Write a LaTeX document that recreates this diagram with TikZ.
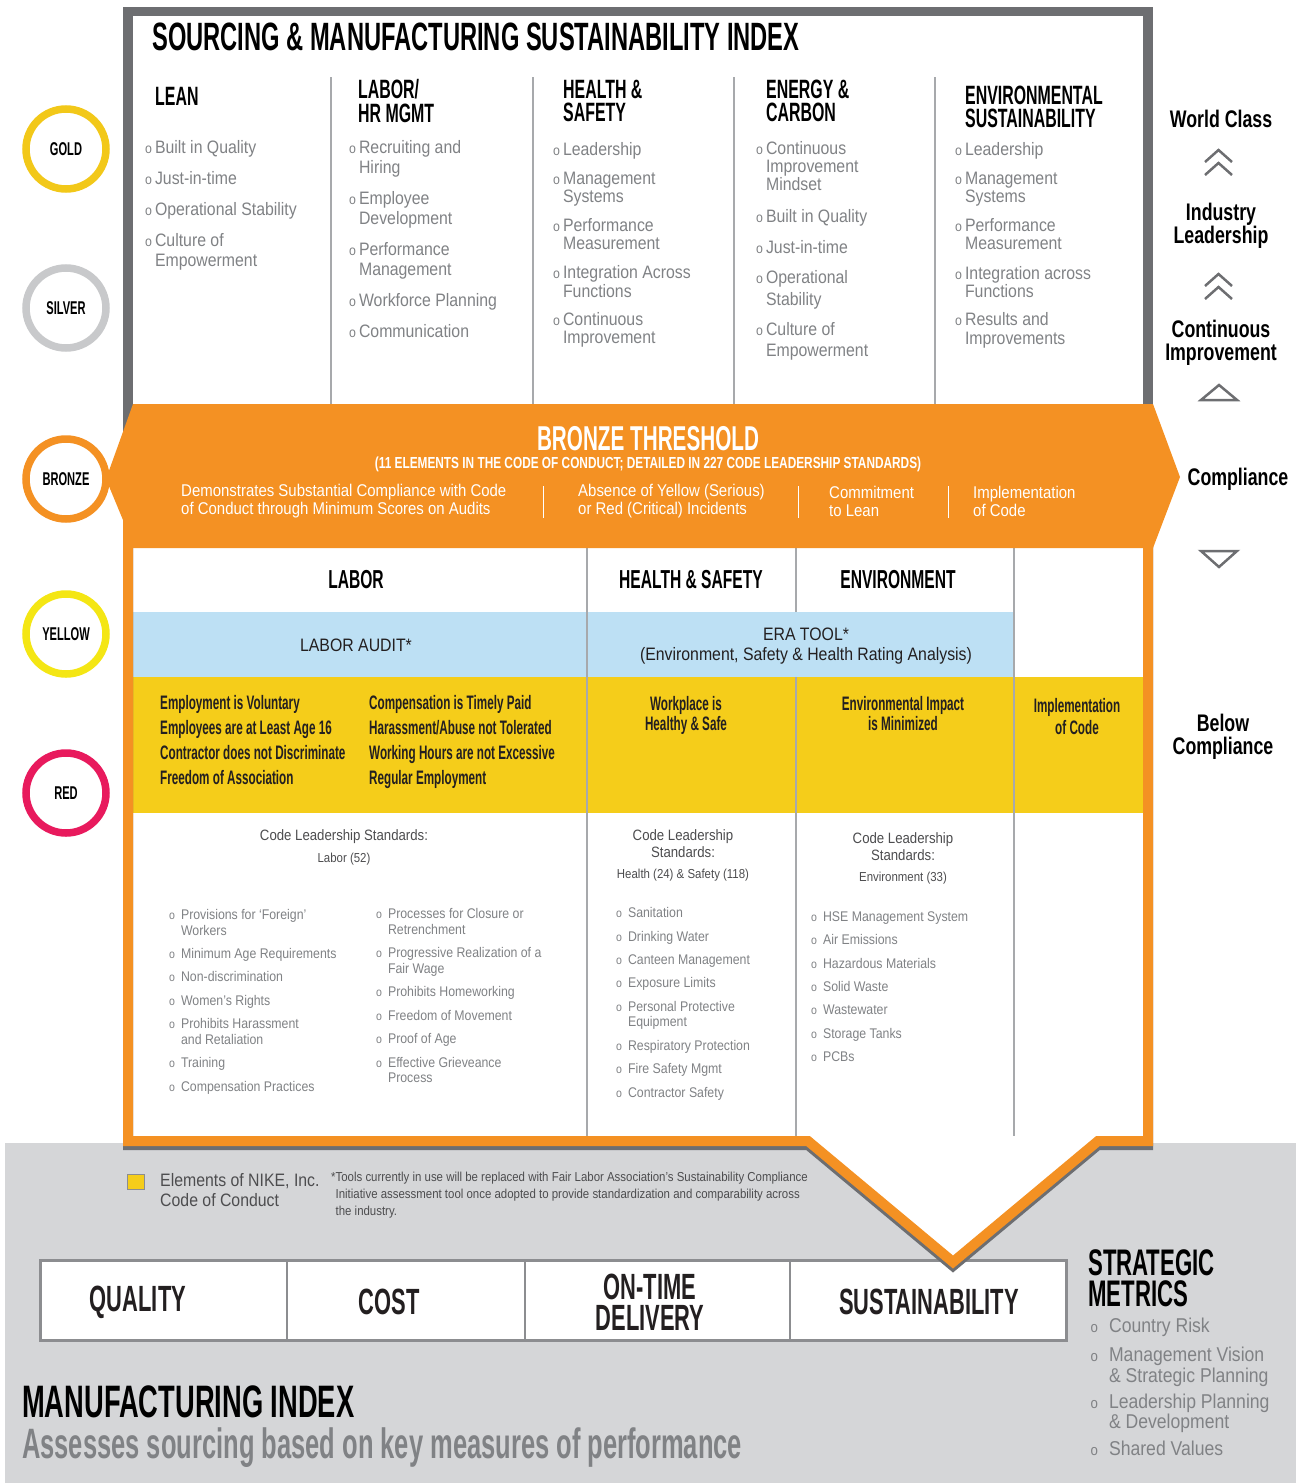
\documentclass[tikz,border=0pt]{standalone}
\usepackage{fontspec}
\setmainfont{Liberation Sans}
\usepackage{tikz}
\usetikzlibrary{positioning, calc}
\newfontfamily\bodyfont{Liberation Sans}[FakeStretch=0.88]
\newfontfamily\headfont{Liberation Sans}[FakeStretch=0.6]
\newfontfamily\labfont{Liberation Sans}[FakeStretch=0.74]
\definecolor{FrameGray}{RGB}{109,110,113}
\definecolor{RuleGray}{RGB}{167,169,172}
\definecolor{TextGray}{RGB}{128,130,133}
\definecolor{NoteGray}{RGB}{77,77,79}
\definecolor{MetricGray}{RGB}{140,141,144}
\definecolor{BaseGray}{RGB}{213,214,216}
\definecolor{BandOrange}{RGB}{244,145,35}
\definecolor{BandBlue}{RGB}{189,224,244}
\definecolor{BandYellow}{RGB}{245,205,26}
\definecolor{RingGold}{RGB}{242,200,25}
\definecolor{RingSilver}{RGB}{200,201,203}
\definecolor{RingYellow}{RGB}{244,230,20}
\definecolor{RingRed}{RGB}{232,26,93}
\definecolor{InkDark}{RGB}{35,31,32}
\newcommand{\itemdot}[1]{{\fontsize{#1}{#1}\selectfont o}}

\begin{document}
\begin{tikzpicture}[
  x=1pt, y=-1pt,
  every node/.style={inner sep=0pt},
  colhead/.style={anchor=west, align=left, font=\headfont\bfseries\fontsize{26.5}{23.5}\selectfont},
  itemlist/.style={anchor=north west, text=TextGray, font=\bodyfont\fontsize{18}{20}\selectfont},
  itemlistnarrow/.style={anchor=north west, text=TextGray, font=\bodyfont\fontsize{18}{18}\selectfont},
  itemlistsmall/.style={anchor=north west, text=TextGray, font=\bodyfont\fontsize{14}{16}\selectfont},
  ring/.style={circle, draw=#1, line width=7.5pt, fill=white, minimum size=80pt,
               font=\headfont\bfseries\fontsize{18.5}{18.5}\selectfont},
  sidelabel/.style={align=center, font=\labfont\bfseries\fontsize{24}{23}\selectfont},
  chevron/.style={draw=FrameGray, line width=2.5pt, line join=miter},
  bandtext/.style={anchor=west, align=left, text=white, font=\bodyfont\fontsize{17}{18}\selectfont},
  tablehead/.style={font=\headfont\bfseries\fontsize{26}{26}\selectfont},
  audit/.style={align=center, text=InkDark, font=\bodyfont\fontsize{18}{20}\selectfont},
  codeleft/.style={anchor=west, align=left, text=InkDark, font=\headfont\bfseries\fontsize{19.5}{25}\selectfont},
  codemid/.style={anchor=north, align=center, text=InkDark, font=\headfont\bfseries\fontsize{19.5}{#1}\selectfont},
  stdnote/.style={align=center, text=NoteGray, font=\bodyfont\fontsize{15}{17}\selectfont},
  stdsub/.style={text=NoteGray, font=\bodyfont\fontsize{13}{13}\selectfont},
  metric/.style={draw=MetricGray, line width=1.6pt, fill=white, minimum height=80pt, outer sep=0pt},
  metriclabel/.style={align=center, text=InkDark, font=\headfont\bfseries\fontsize{36.5}{31}\selectfont}
]
\useasboundingbox (0,0) rectangle (1301,1483);

\fill[BaseGray] (5,1143) rectangle (1296,1483);
\fill[FrameGray] (123,7) rectangle (1153,440);
\fill[white] (133,16) rectangle (1143,440);
\foreach \xx in {331,533,734,935}
  \draw[RuleGray, line width=1.2pt] (\xx,77) -- (\xx,404);

\fill[white] (133,547) -- (1143,547) -- (1143,1141) -- (1098,1141) -- (953,1262)
  -- (808,1141) -- (133,1141) -- cycle;
\fill[BandBlue] (133,612) rectangle (1014,677);
\fill[BandYellow] (133,677) rectangle (1143,813);
\draw[RuleGray, line width=1.2pt] (587,547) -- (587,1136);
\draw[RuleGray, line width=1.2pt] (796,547) -- (796,612) (796,677) -- (796,1136);
\draw[RuleGray, line width=1.2pt] (1014,547) -- (1014,1136);

\node[metric, anchor=north west, minimum width=247pt] (quality) at (40,1260) {};
\node[metric, minimum width=238pt, right=0pt of quality] (cost) {};
\node[metric, minimum width=265pt, right=0pt of cost] (ontime) {};
\node[metric, minimum width=276pt, right=0pt of ontime] (sustain) {};
\draw[MetricGray, line width=3pt] (quality.north west) rectangle (sustain.south east);

\draw[FrameGray, line width=10pt, line join=miter, shift={(0,4)}]
  (128,530) -- (128,1141) -- (808,1141) -- (953,1262) -- (1098,1141) -- (1148,1141) -- (1148,530);
\draw[BandOrange, line width=10pt, line join=miter]
  (128,530) -- (128,1141) -- (808,1141) -- (953,1262) -- (1098,1141) -- (1148,1141) -- (1148,530);

\fill[BandOrange] (133,404) -- (1153,404) -- (1180,477) -- (1153,548) -- (123,548)
  -- (123,520) -- (106,479) -- cycle;
\foreach \xx in {543,798,948}
  \draw[white, line width=1pt] (\xx,486) -- (\xx,518);

\node[anchor=west, font=\headfont\bfseries\fontsize{39.5}{39.5}\selectfont] (title) at (152,37)
  {SOURCING \& MANUFACTURING SUSTAINABILITY INDEX};

\node[colhead] (leanhd) at (155,96) {LEAN};
\node[colhead] (laborhd) at (358,101) {LABOR/\\HR MGMT};
\node[colhead] (healthhd) at (563,101) {HEALTH \&\\SAFETY};
\node[colhead] (energyhd) at (766,101) {ENERGY \&\\CARBON};
\node[colhead] (envhd) at (965,107) {ENVIRONMENTAL\\SUSTAINABILITY};

\node[itemlist] (leanlist) at (145,139.5) {\begin{tabular}{@{}l@{\hspace{3pt}}l@{}}
  \itemdot{14} & Built in Quality\\[11pt]
  \itemdot{14} & Just-in-time\\[11pt]
  \itemdot{14} & Operational Stability\\[11pt]
  \itemdot{14} & Culture of\\ & Empowerment
\end{tabular}};
\node[itemlist] (laborlist) at (349,139.5) {\begin{tabular}{@{}l@{\hspace{3pt}}l@{}}
  \itemdot{14} & Recruiting and\\ & Hiring\\[11pt]
  \itemdot{14} & Employee\\ & Development\\[11pt]
  \itemdot{14} & Performance\\ & Management\\[11pt]
  \itemdot{14} & Workforce Planning\\[11pt]
  \itemdot{14} & Communication
\end{tabular}};
\node[itemlistnarrow] (healthlist) at (553,141.9) {\begin{tabular}{@{}l@{\hspace{3pt}}l@{}}
  \itemdot{14} & Leadership\\[11pt]
  \itemdot{14} & Management\\ & Systems\\[11pt]
  \itemdot{14} & Performance\\ & Measurement\\[10pt]
  \itemdot{14} & Integration Across\\[1pt] & Functions\\[10pt]
  \itemdot{14} & Continuous\\ & Improvement
\end{tabular}};
\node[itemlistnarrow] (energylist) at (756,140.9) {\begin{tabular}{@{}l@{\hspace{3pt}}l@{}}
  \itemdot{14} & Continuous\\ & Improvement\\ & Mindset\\[13pt]
  \itemdot{14} & Built in Quality\\[13pt]
  \itemdot{14} & Just-in-time\\[12pt]
  \itemdot{14} & Operational\\[3pt] & Stability\\[12pt]
  \itemdot{14} & Culture of\\[3pt] & Empowerment
\end{tabular}};
\node[itemlistnarrow] (envlist) at (955,141.9) {\begin{tabular}{@{}l@{\hspace{3pt}}l@{}}
  \itemdot{14} & Leadership\\[11pt]
  \itemdot{14} & Management\\ & Systems\\[11pt]
  \itemdot{14} & Performance\\ & Measurement\\[11pt]
  \itemdot{14} & Integration across\\ & Functions\\[10pt]
  \itemdot{14} & Results and\\[1pt] & Improvements
\end{tabular}};

\node[font=\headfont\bfseries\fontsize{34.5}{34.5}\selectfont, text=white] (bronzetitle) at (648,439)
  {BRONZE THRESHOLD};
\node[font=\labfont\bfseries\fontsize{16}{16}\selectfont, text=white] (bronzesub) at (648,464)
  {(11 ELEMENTS IN THE CODE OF CONDUCT; DETAILED IN 227 CODE LEADERSHIP STANDARDS)};
\node[bandtext] (substantial) at (181,501)
  {Demonstrates Substantial Compliance with Code\\of Conduct through Minimum Scores on Audits};
\node[bandtext] (absence) at (578,501) {Absence of Yellow (Serious)\\or Red (Critical) Incidents};
\node[bandtext] (commitment) at (829,501) {Commitment\\to Lean};
\node[bandtext] (implement) at (973,501) {Implementation\\of Code};

\node[tablehead] (laborcol) at (356,580) {LABOR};
\node[tablehead] (healthcol) at (691,580) {HEALTH \& SAFETY};
\node[tablehead] (envcol) at (898,580) {ENVIRONMENT};
\node[audit] (laboraudit) at (356,645) {LABOR AUDIT*};
\node[audit] (eratool) at (806,646) {ERA TOOL*\\(Environment, Safety \& Health Rating Analysis)};

\node[codeleft] (laborcodea) at (160,740)
  {Employment is Voluntary\\Employees are at Least Age 16\\Contractor does not Discriminate\\Freedom of Association};
\node[codeleft] (laborcodeb) at (369,742)
  {Compensation is Timely Paid\\Harassment/Abuse not Tolerated\\Working Hours are not Excessive\\Regular Employment};
\node[codemid=20] (healthcode) at (686,696) {Workplace is\\Healthy \& Safe};
\node[codemid=20] (envcode) at (903,696) {Environmental Impact\\is Minimized};
\node[codemid=22] (implcode) at (1077,698) {Implementation\\of Code};

\node[stdnote] (laborstd) at (344,837) {Code Leadership Standards:};
\node[stdsub] (laborsub) at (344,859) {Labor (52)};
\node[stdnote] (healthstd) at (683,844) {Code Leadership\\Standards:};
\node[stdsub] (healthsub) at (683,875) {Health (24) \& Safety (118)};
\node[stdnote] (envstd) at (903,847) {Code Leadership\\Standards:};
\node[stdsub] (envsub) at (903,878) {Environment (33)};

\node[itemlistsmall] (laborstdsa) at (169,907.8) {\begin{tabular}{@{}l@{\hspace{6pt}}l@{}}
  \itemdot{12} & Provisions for ‘Foreign’\\ & Workers\\[7pt]
  \itemdot{12} & Minimum Age Requirements\\[7pt]
  \itemdot{12} & Non-discrimination\\[8pt]
  \itemdot{12} & Women’s Rights\\[7pt]
  \itemdot{12} & Prohibits Harassment\\ & and Retaliation\\[7pt]
  \itemdot{12} & Training\\[8pt]
  \itemdot{12} & Compensation Practices
\end{tabular}};
\node[itemlistsmall] (laborstdsb) at (376,906.8) {\begin{tabular}{@{}l@{\hspace{6pt}}l@{}}
  \itemdot{12} & Processes for Closure or\\ & Retrenchment\\[7pt]
  \itemdot{12} & Progressive Realization of a\\ & Fair Wage\\[7pt]
  \itemdot{12} & Prohibits Homeworking\\[8pt]
  \itemdot{12} & Freedom of Movement\\[7pt]
  \itemdot{12} & Proof of Age\\[8pt]
  \itemdot{12} & Effective Grieveance\\[-1pt] & Process
\end{tabular}};
\node[itemlistsmall] (healthstds) at (616,905.8) {\begin{tabular}{@{}l@{\hspace{6pt}}l@{}}
  \itemdot{12} & Sanitation\\[8pt]
  \itemdot{12} & Drinking Water\\[7pt]
  \itemdot{12} & Canteen Management\\[7pt]
  \itemdot{12} & Exposure Limits\\[8pt]
  \itemdot{12} & Personal Protective\\[-1pt] & Equipment\\[8pt]
  \itemdot{12} & Respiratory Protection\\[7pt]
  \itemdot{12} & Fire Safety Mgmt\\[8pt]
  \itemdot{12} & Contractor Safety
\end{tabular}};
\node[itemlistsmall] (envstds) at (811,909.8) {\begin{tabular}{@{}l@{\hspace{6pt}}l@{}}
  \itemdot{12} & HSE Management System\\[7pt]
  \itemdot{12} & Air Emissions\\[8pt]
  \itemdot{12} & Hazardous Materials\\[7pt]
  \itemdot{12} & Solid Waste\\[7pt]
  \itemdot{12} & Wastewater\\[8pt]
  \itemdot{12} & Storage Tanks\\[7pt]
  \itemdot{12} & PCBs
\end{tabular}};

\node[ring=RingGold] (gold) at (66,149) {GOLD};
\node[ring=RingSilver] (silver) at (66,308) {SILVER};
\node[ring=BandOrange] (bronze) at (66,479) {BRONZE};
\node[ring=RingYellow] (yellow) at (66,634) {YELLOW};
\node[ring=RingRed] (red) at (66,793) {RED};

\node[sidelabel] (worldclass) at (1221,119) {World Class};
\node[sidelabel] (industry) at (1221,226) {Industry\\Leadership};
\node[sidelabel] (continuous) at (1221,343) {Continuous\\Improvement};
\node[sidelabel] (compliance) at (1238,479) {Compliance};
\node[sidelabel] (belowcomp) at (1223,737) {Below\\Compliance};
\draw[chevron] (1205,162) -- (1218.5,150) -- (1232,162);
\draw[chevron] (1205,175) -- (1218.5,163) -- (1232,175);
\draw[chevron] (1205,286) -- (1218.5,274) -- (1232,286);
\draw[chevron] (1205,299) -- (1218.5,287) -- (1232,299);
\draw[chevron] (1201,400) -- (1219,385) -- (1237,400) -- cycle;
\draw[chevron] (1201,551) -- (1219,567) -- (1237,551) -- cycle;

\node[draw=MetricGray, line width=1.2pt, fill=BandYellow, minimum width=17pt, minimum height=15pt]
  (nikekey) at (136,1182) {};
\node[anchor=west, align=left, text=NoteGray, font=\bodyfont\fontsize{18}{20}\selectfont]
  (nikecode) at (160,1190) {Elements of NIKE, Inc.\\Code of Conduct};
\node[anchor=north west, align=left, text=NoteGray, font=\bodyfont\fontsize{13}{17}\selectfont]
  (toolnote) at (331,1172) {*Tools currently in use will be replaced with Fair Labor Association’s Sustainability Compliance\\
  \phantom{*}Initiative assessment tool once adopted to provide standardization and comparability across\\
  \phantom{*}the industry.};

\node[metriclabel] (qualitytext) at (138,1302) {QUALITY};
\node[metriclabel] (costtext) at (389,1302) {COST};
\node[metriclabel] (ontimetext) at (650,1302) {ON-TIME\\DELIVERY};
\node[metriclabel] (sustaintext) at (929,1302) {SUSTAINABILITY};

\node[anchor=west, align=left, font=\headfont\bfseries\fontsize{37}{31}\selectfont] (strategic) at (1088,1278)
  {STRATEGIC\\METRICS};
\node[anchor=north west, text=TextGray, font=\bodyfont\fontsize{20}{20.5}\selectfont] (strategiclist) at (1090.5,1317.6)
  {\begin{tabular}{@{}l@{\hspace{11pt}}l@{}}
  \itemdot{15} & Country Risk\\[8.5pt]
  \itemdot{15} & Management Vision\\ & \& Strategic Planning\\[5.5pt]
  \itemdot{15} & Leadership Planning\\ & \& Development\\[5.5pt]
  \itemdot{15} & Shared Values
\end{tabular}};

\node[anchor=west, font=\headfont\bfseries\fontsize{45.5}{45.5}\selectfont] (mfgindex) at (22,1402) {MANUFACTURING INDEX};
\node[anchor=base west, text=TextGray, font=\headfont\bfseries\fontsize{42.5}{42.5}\selectfont] (mfgsub) at (22,1458)
  {Assesses sourcing based on key measures of performance};
\end{tikzpicture}
\end{document}
